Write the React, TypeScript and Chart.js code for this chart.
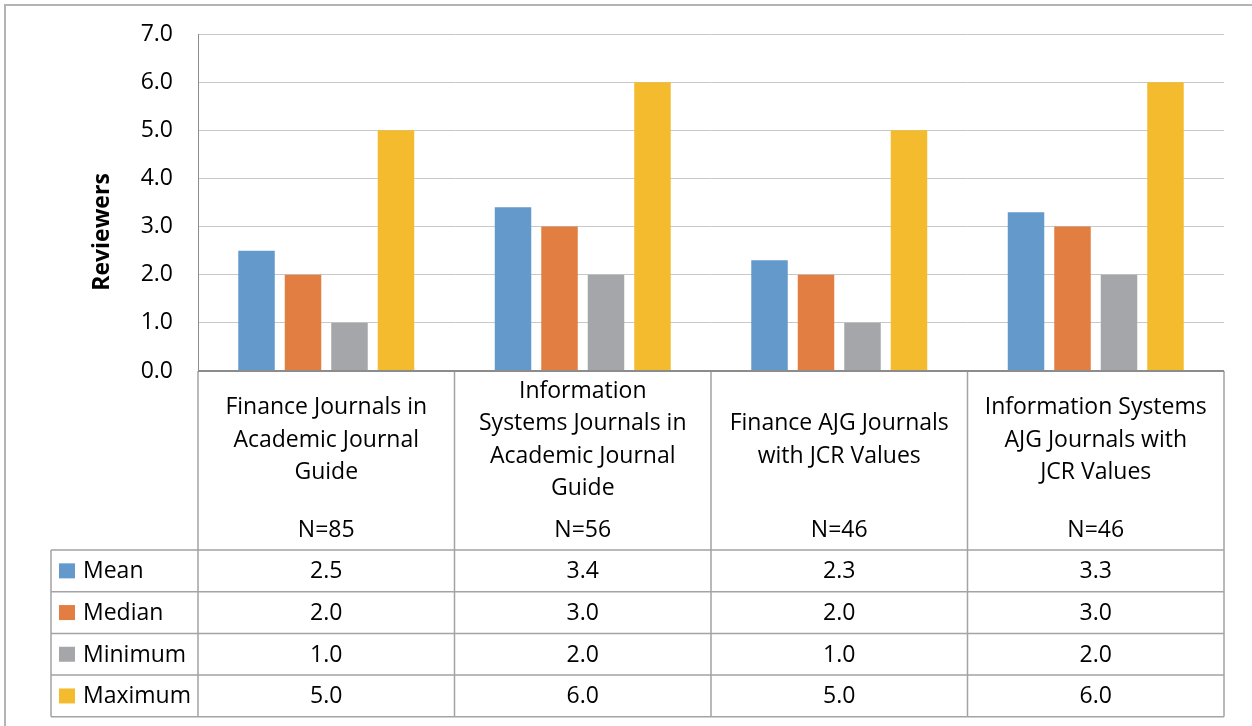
import React, { useEffect, useRef } from 'react';
import { Chart, registerables } from 'chart.js';

Chart.register(...registerables);

const categoryLines: string[][] = [
  ['Finance Journals in', 'Academic Journal', 'Guide'],
  ['Information', 'Systems Journals in', 'Academic Journal', 'Guide'],
  ['Finance AJG Journals', 'with JCR Values'],
  ['Information Systems', 'AJG Journals with', 'JCR Values'],
];
const sampleSizes: string[] = ['N=85', 'N=56', 'N=46', 'N=46'];
const seriesNames: string[] = ['Mean', 'Median', 'Minimum', 'Maximum'];
const meanValues: number[] = [2.5, 3.4, 2.3, 3.3];
const medianValues: number[] = [2.0, 3.0, 2.0, 3.0];
const minimumValues: number[] = [1.0, 2.0, 1.0, 2.0];
const maximumValues: number[] = [5.0, 6.0, 5.0, 6.0];
const yMin = 0;
const yMax = 7;
const yStep = 1;
const yTitle = 'Reviewers';

const seriesColors = ['#6399CB', '#E27E41', '#A5A6A9', '#F4BB2F'];

const W = 1252;
const H = 726;
const PLOT_TOP = 34;
const TABLE_FONT = '23px "Open Sans"';
const LINE_COLOR = '#a3a3a3';

const tablePlugin = {
  id: 'dataTable',
  afterLayout(chart: any) {
    const y = chart.scales.y;
    const area = chart.chartArea;
    if (Math.abs(area.top - PLOT_TOP) > 0.1) {
      area.top = PLOT_TOP;
      area.height = area.bottom - PLOT_TOP;
      y.top = PLOT_TOP;
      y.height = y.bottom - PLOT_TOP;
      y.configure();
    }
  },
  afterDraw(chart: any) {
    const { ctx, chartArea, scales } = chart;
    const x = scales.x;
    const n = chart.data.labels.length;
    const half = (x.getPixelForValue(1) - x.getPixelForValue(0)) / 2;
    const edges: number[] = [];
    for (let i = 0; i < n; i++) edges.push(x.getPixelForValue(i) - half);
    edges.push(x.getPixelForValue(n - 1) + half);

    const headerBottom = 550;
    const rowH = 41.7;
    const legendLeft = 51;
    const nRows = chart.data.datasets.length;
    const tableBottom = headerBottom + rowH * nRows;

    ctx.save();
    // outer chart border
    ctx.strokeStyle = '#b4b4b4';
    ctx.lineWidth = 2;
    ctx.beginPath();
    ctx.moveTo(5, H);
    ctx.lineTo(5, 5);
    ctx.lineTo(W, 5);
    ctx.stroke();

    // table grid
    ctx.strokeStyle = LINE_COLOR;
    ctx.lineWidth = 1.5;
    ctx.beginPath();
    for (let i = 0; i <= n; i++) {
      ctx.moveTo(edges[i], chartArea.bottom);
      ctx.lineTo(edges[i], tableBottom);
    }
    ctx.moveTo(legendLeft, headerBottom);
    ctx.lineTo(legendLeft, tableBottom);
    for (let r = 0; r <= nRows; r++) {
      const y = headerBottom + r * rowH;
      ctx.moveTo(legendLeft, y);
      ctx.lineTo(edges[n], y);
    }
    ctx.stroke();

    // horizontal axis line
    ctx.strokeStyle = '#8c8c8c';
    ctx.lineWidth = 2;
    ctx.beginPath();
    ctx.moveTo(chartArea.left, chartArea.bottom);
    ctx.lineTo(chartArea.right, chartArea.bottom);
    ctx.stroke();

    // category labels
    ctx.fillStyle = '#000';
    ctx.font = TABLE_FONT;
    ctx.textAlign = 'center';
    ctx.textBaseline = 'middle';
    const lh = 32.5;
    for (let i = 0; i < n; i++) {
      const cx = (edges[i] + edges[i + 1]) / 2;
      const lines = categoryLines[i];
      const start = 440 - ((lines.length - 1) * lh) / 2;
      lines.forEach((t, k) => ctx.fillText(t, cx, start + k * lh));
      ctx.fillText(sampleSizes[i], cx, 530);
    }

    // data rows
    chart.data.datasets.forEach((ds: any, r: number) => {
      const cy = headerBottom + r * rowH + rowH / 2;
      ctx.fillStyle = ds.backgroundColor;
      ctx.fillRect(59, cy - 7.5, 16, 15);
      ctx.fillStyle = '#000';
      ctx.textAlign = 'left';
      ctx.fillText(ds.label, 83, cy + 1);
      ctx.textAlign = 'center';
      for (let i = 0; i < n; i++) {
        const cx = (edges[i] + edges[i + 1]) / 2;
        ctx.fillText(Number(ds.data[i]).toFixed(1), cx, cy + 1);
      }
    });

    // y axis title
    ctx.fillStyle = '#000';
    ctx.font = 'bold 23px "Open Sans"';
    ctx.textAlign = 'center';
    ctx.textBaseline = 'alphabetic';
    ctx.translate(109, 232);
    ctx.rotate(-Math.PI / 2);
    ctx.fillText(yTitle, 0, 0);
    ctx.restore();
  },
};

export default function App() {
  const ref = useRef<HTMLCanvasElement | null>(null);

  useEffect(() => {
    document.body.style.margin = '0';
    const canvas = ref.current;
    if (!canvas) return;
    const seriesData = [meanValues, medianValues, minimumValues, maximumValues];
    const chart = new Chart(canvas, {
      type: 'bar',
      data: {
        labels: categoryLines.map((l) => l.join(' ')),
        datasets: seriesNames.map((name, i) => ({
          label: name,
          data: seriesData[i],
          backgroundColor: seriesColors[i],
          borderWidth: 0,
          categoryPercentage: 0.725,
          barPercentage: 0.785,
        })),
      },
      options: {
        responsive: false,
        animation: false,
        devicePixelRatio: 1,
        layout: { padding: { left: 5, right: 28, top: PLOT_TOP, bottom: H - 371 } },
        plugins: { legend: { display: false }, tooltip: { enabled: false }, title: { display: false } },
        scales: {
          x: { display: false },
          y: {
            min: yMin,
            max: yMax,
            ticks: {
              stepSize: yStep,
              callback: (v: any) => Number(v).toFixed(1),
              font: { family: 'Open Sans', size: 23 },
              color: '#000',
              padding: 25,
            },
            grid: { color: '#c8c8c8', drawTicks: false, lineWidth: 1 },
            border: { display: true, color: '#8c8c8c', width: 1 },
            afterFit: (s: any) => {
              s.width = 193;
            },
          },
        },
      },
      plugins: [tablePlugin],
    } as any);
    return () => chart.destroy();
  }, []);

  return (
    <div style={{ position: 'absolute', left: 0, top: 0, width: W, height: H, background: '#fff' }}>
      <canvas ref={ref} width={W} height={H} style={{ display: 'block' }} />
    </div>
  );
}
